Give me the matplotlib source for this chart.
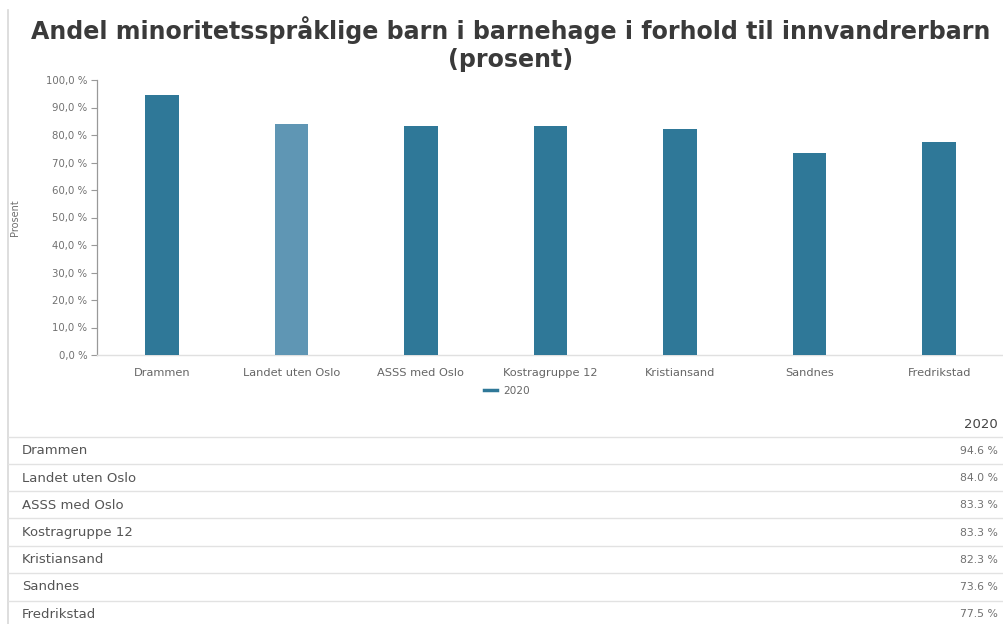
import matplotlib
matplotlib.use('Agg')
import matplotlib.pyplot as plt
from matplotlib.lines import Line2D

# data
categories = ['Drammen', 'Landet uten Oslo', 'ASSS med Oslo', 'Kostragruppe 12',
              'Kristiansand', 'Sandnes', 'Fredrikstad']
values = [94.6, 84.0, 83.3, 83.3, 82.3, 73.6, 77.5]
series_name = '2020'
title = 'Andel minoritetsspråklige barn i barnehage i forhold til innvandrerbarn\n(prosent)'

dark = '#2f7898'
light = '#5f96b4'
bar_colors = [light if c == 'Landet uten Oslo' else dark for c in categories]

plt.rcParams['font.family'] = ['DejaVu Sans']

W, H = 1004, 624
fig = plt.figure(figsize=(W / 100, H / 100), dpi=100)

def fx(px):
    return px / W

def fy(py):
    return 1 - py / H

# tittel
fig.text(fx(511), fy(44), title, ha='center', va='center', fontsize=17.1,
         fontweight='bold', color='#3a3a3a', linespacing=1.25)

# venstre kantlinje
fig.add_artist(Line2D([fx(8), fx(8)], [fy(10), fy(624)], color='#d8d8d8', lw=1.2))

# hovedplott
ax = fig.add_axes([fx(97), fy(355), fx(1004) - fx(97), fy(80) - fy(355)])
x = range(len(categories))
ax.bar(x, values, width=0.26, color=bar_colors, zorder=3)
ax.set_xlim(-0.5, len(categories) - 0.5)
ax.set_ylim(0, 100)
yt = [i * 10 for i in range(11)]
ax.set_yticks(yt)
ax.set_yticklabels([f'{v:.1f} %'.replace('.', ',') for v in yt], fontsize=7.3, color='#707070')
ax.set_xticks(list(x))
ax.set_xticklabels(categories, fontsize=8.2, color='#666666')
ax.tick_params(axis='y', length=4, width=0.8, color='#999999', pad=3)
ax.tick_params(axis='x', length=0, pad=9)
for s in ['top', 'right']:
    ax.spines[s].set_visible(False)
ax.spines['left'].set_color('#999999')
ax.spines['left'].set_linewidth(0.9)
ax.spines['bottom'].set_color('#e0e0e0')
ax.spines['bottom'].set_linewidth(1.0)
ax.set_ylabel('Prosent', fontsize=7, color='#707070')
ax.yaxis.set_label_coords((fx(20) - fx(97)) / (fx(1004) - fx(97)), 0.5)

# legende
leg_handle = Line2D([0], [0], color=dark, lw=2.5)
fig.legend([leg_handle], [series_name], loc='center', bbox_to_anchor=(fx(507), fy(391)),
           frameon=False, fontsize=7.6, labelcolor='#666666', handlelength=1.3,
           handletextpad=0.6)

# tabell
fig.text(fx(998), fy(424), series_name, ha='right', va='center', fontsize=9.5, color='#444444')
row_lines = [437, 464, 491, 518, 546, 573, 601]
for py in row_lines:
    fig.add_artist(Line2D([fx(8), fx(1004)], [fy(py), fy(py)], color='#e2e2e2', lw=1.0))
for i, (c, v) in enumerate(zip(categories, values)):
    py = 451 + i * 27.2
    fig.text(fx(22), fy(py), c, ha='left', va='center', fontsize=9.5, color='#555555')
    fig.text(fx(998), fy(py), f'{v:.1f} %', ha='right', va='center',
             fontsize=7.8, color='#707070')

fig.savefig('out.png', dpi=100)
plt.close()
